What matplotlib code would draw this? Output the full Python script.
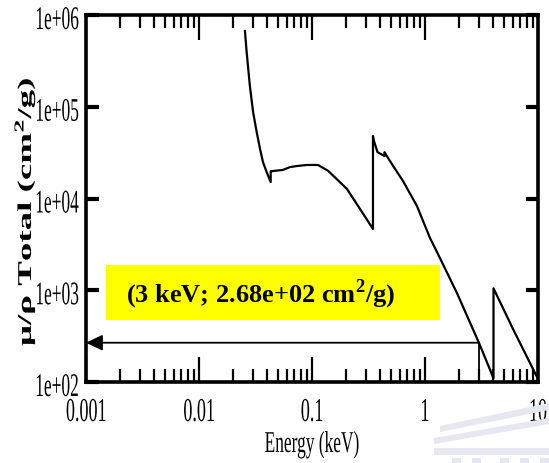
import matplotlib
matplotlib.use("Agg")
import matplotlib.pyplot as plt
from matplotlib.patheffects import AbstractPathEffect
from matplotlib.transforms import Affine2D, blended_transform_factory, offset_copy
from matplotlib.patches import Rectangle, Polygon
from matplotlib.ticker import LogLocator, NullFormatter, NullLocator

plt.rcParams["mathtext.fontset"] = "custom"
plt.rcParams["mathtext.rm"] = "Liberation Serif"
plt.rcParams["mathtext.bf"] = "Liberation Serif:bold"

# Total mass attenuation coefficient of calcium
energy_kev = [0.0255, 0.0264, 0.0282, 0.0301, 0.0324, 0.0347, 0.0368, 0.0397,
              0.0431, 0.0431, 0.0554, 0.0638, 0.0736, 0.090, 0.113, 0.139,
              0.204, 0.266, 0.3463, 0.3463, 0.352, 0.380, 0.4384, 0.4384,
              0.460, 0.530, 0.639, 0.849, 1.107, 1.277, 1.92, 3.0, 4.038,
              4.038, 6.01, 10.0]
mu_rho = [6.7e5, 3.95e5, 1.68e5, 8.77e4, 5.3e4, 3.46e4, 2.5e4, 1.94e4,
          1.51e4, 1.98e4, 2.05e4, 2.2e4, 2.26e4, 2.32e4, 2.32e4, 2.0e4,
          1.27e4, 7.69e3, 4.66e3, 4.8e4, 4.3e4, 3.2e4, 2.9e4, 3.2e4,
          2.9e4, 2.2e4, 1.55e4, 8.28e3, 3.71e3, 2.61e3, 9.3e2, 2.68e2,
          1.1e2, 1.05e3, 3.78e2, 1.08e2]

x_tick_values = [0.001, 0.01, 0.1, 1, 10]
x_tick_labels = ["0.001", "0.01", "0.1", "1", "10"]
y_tick_values = [1e2, 1e3, 1e4, 1e5, 1e6]
y_tick_labels = ["1e+02", "1e+03", "1e+04", "1e+05", "1e+06"]

marked_energy = 3.0
marked_mu = 268.0
note = f"({marked_energy:g} keV; {marked_mu:.2e} cm$^\\mathbf{{2}}$/g)"

W, H = 549, 464
SERIF = ["Liberation Serif", "DejaVu Serif"]


class Stretch(AbstractPathEffect):
    """Draw text glyphs scaled in their own frame (narrow, tall lettering)."""

    def __init__(self, sx=1.0, sy=1.0):
        super().__init__()
        self._sx, self._sy = sx, sy

    def draw_path(self, renderer, gc, tpath, affine, rgbFace=None):
        renderer.draw_path(gc, tpath, Affine2D().scale(self._sx, self._sy) + affine, rgbFace)


def fx(px):
    return px / W


def fy(py):
    return 1 - py / H


fig = plt.figure(figsize=(W / 100, H / 100), dpi=100)
fig.patch.set_facecolor("white")

# faint building emblem in the lower right corner
emblem = "#e6e7f0"
for pts in [
    [(440, 427), (549, 404), (549, 411), (440, 433)],
    [(434, 439), (549, 419), (549, 425), (434, 445)],
    [(434, 449), (549, 449), (549, 456), (434, 456)],
]:
    fig.patches.append(Polygon([(fx(a), fy(b)) for a, b in pts], closed=True,
                               transform=fig.transFigure, facecolor=emblem,
                               edgecolor="none", zorder=0))
for x0 in [452, 472, 500, 520, 540]:
    fig.patches.append(Rectangle((fx(x0), fy(464)), 9 / W, 5 / H,
                                 transform=fig.transFigure, facecolor=emblem,
                                 edgecolor="none", zorder=0))

ax = fig.add_axes([fx(86), fy(383), (538 - 86) / W, (383 - 16) / H])
ax.set_xscale("log")
ax.set_yscale("log")
ax.set_xlim(1e-3, 10)
ax.set_ylim(1e2, 1e6)
ax.patch.set_alpha(0)

ax.plot(energy_kev, mu_rho, color="black", lw=1.6, solid_joinstyle="round", zorder=3)

# read-off of the value at 3 keV
ax.plot([marked_energy, marked_energy], [1e2, marked_mu], color="black", lw=1.3, zorder=3)
ax.annotate("", xy=(1e-3, marked_mu), xytext=(marked_energy, marked_mu),
            arrowprops=dict(arrowstyle="-|>,head_length=0.5,head_width=0.24",
                            color="black", lw=1.3, mutation_scale=20,
                            shrinkA=0, shrinkB=0), zorder=3)

for side in ax.spines.values():
    side.set_linewidth(2.6)

ax.xaxis.set_major_locator(LogLocator(base=10, numticks=10))
ax.xaxis.set_minor_locator(LogLocator(base=10, subs=range(2, 10), numticks=10))
ax.yaxis.set_major_locator(LogLocator(base=10, numticks=10))
ax.yaxis.set_minor_locator(NullLocator())
ax.tick_params(axis="x", which="major", direction="in", top=True, bottom=True,
               length=18, width=1.6, labelbottom=False)
ax.tick_params(axis="x", which="minor", direction="in", top=True, bottom=True,
               length=9.5, width=1.6)
ax.tick_params(axis="y", which="major", direction="in", left=True, right=True,
               length=9, width=3, labelleft=False)
ax.xaxis.set_minor_formatter(NullFormatter())

xt = blended_transform_factory(ax.transData, fig.transFigure)
for v, lab in zip(x_tick_values, x_tick_labels):
    ax.text(v, fy(422), lab, transform=xt, ha="center", va="baseline",
            fontsize=13, family=SERIF, path_effects=[Stretch(1, 1.85)])

yt = offset_copy(blended_transform_factory(fig.transFigure, ax.transData),
                 fig=fig, x=0, y=-14, units="dots")
for v, lab in zip(y_tick_values, y_tick_labels):
    ax.text(fx(79), v, lab, transform=yt, ha="right", va="baseline",
            fontsize=12.5, family=SERIF, path_effects=[Stretch(1, 1.9)])

fig.text(fx(312), fy(453), "Energy (keV)", ha="center", va="baseline",
         fontsize=12.5, family=SERIF, path_effects=[Stretch(1, 1.74)])
fig.text(fx(31), fy(347), "\u03bc/\u03c1 Total (cm$^\\mathbf{2}$/g)", rotation=90,
         rotation_mode="anchor", ha="left", va="baseline", fontsize=14,
         fontweight="bold", family=SERIF, path_effects=[Stretch(1.9, 1)])

# highlighted value box
fig.patches.append(Rectangle((fx(106), fy(321)), (440 - 106) / W, (321 - 266) / H,
                             transform=fig.transFigure, facecolor="#ffff00",
                             edgecolor="none", zorder=5))
fig.text(fx(126), fy(302), note, ha="left", va="baseline", fontsize=19,
         fontweight="bold", family=SERIF, zorder=6)

fig.savefig("out.png", dpi=100)
